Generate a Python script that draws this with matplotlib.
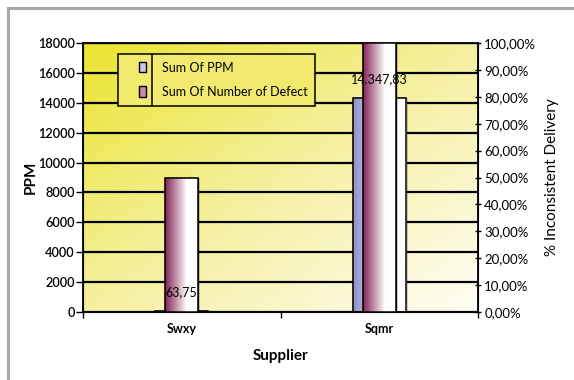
import numpy as np
import matplotlib.pyplot as plt
from matplotlib.colors import LinearSegmentedColormap
from matplotlib.patches import Rectangle
from matplotlib.lines import Line2D
from matplotlib.legend_handler import HandlerPatch

suppliers = ['Swxy', 'Sqmr']
ppm = [63.75, 14347.83]
defect_pct = [0.50, 1.00]
ppm_labels = ['63,75', '14.347,83']
left_ticks = [0, 2000, 4000, 6000, 8000, 10000, 12000, 14000, 16000, 18000]
right_ticks = [0, 0.1, 0.2, 0.3, 0.4, 0.5, 0.6, 0.7, 0.8, 0.9, 1.0]
right_labels = ['0,00%', '10,00%', '20,00%', '30,00%', '40,00%', '50,00%',
                '60,00%', '70,00%', '80,00%', '90,00%', '100,00%']

plt.rcParams['font.family'] = ['Lato', 'DejaVu Sans']

fig = plt.figure(figsize=(5.74, 3.8), dpi=100)
fig.patch.set_facecolor('white')
# grey outer frame
fig.add_artist(Rectangle((8/574, -0.2), 1.2, 1.2 - 12/380 + 0.01, transform=fig.transFigure,
                         fill=False, edgecolor='#a8a8a8', lw=2.2))

ax = fig.add_axes([83/574, 1 - 312/380, 395/574, 269/380])
x = np.arange(len(suppliers))
ax.set_xlim(-0.5, 1.5)
ax.set_ylim(0, 18000)

# diagonal yellow -> white background
gx, gy = np.meshgrid(np.linspace(0, 1, 200), np.linspace(0, 1, 200))
g = np.clip((gx + gy) / 2.0, 0, 1)
bg_cmap = LinearSegmentedColormap.from_list('bg', ['#ebe430', '#f5f0a0', '#fffef6'])
ax.imshow(g, extent=[0, 1, 0, 1], transform=ax.transAxes, cmap=bg_cmap,
          aspect='auto', zorder=0, origin='upper')

ax.set_yticks(left_ticks)
ax.yaxis.grid(True, color='black', lw=1.6, zorder=1)
ax.set_axisbelow(True)

ppm_cmap = LinearSegmentedColormap.from_list('ppm', ['#9090c8', '#c8c8e4', '#ffffff', '#ffffff'])
def_cmap = LinearSegmentedColormap.from_list('def', ['#862456', '#c090a8', '#ffffff', '#ffffff'])
hgrad = np.linspace(0, 1, 100).reshape(1, -1)

def gradient_bars(a, bars, cmap):
    for b in bars:
        x0, y0 = b.get_x(), b.get_y()
        im = a.imshow(hgrad, extent=[x0, x0 + b.get_width(), y0, y0 + b.get_height()],
                      cmap=cmap, aspect='auto', zorder=b.get_zorder() + 0.1)
        im.set_clip_path(b)
        a.add_patch(Rectangle((x0, y0), b.get_width(), b.get_height(), fill=False,
                              edgecolor='black', lw=1.1, zorder=b.get_zorder() + 0.2))

bars1 = ax.bar(x, ppm, width=0.27, color='#9090c8', edgecolor='black', lw=1.0, zorder=2)
gradient_bars(ax, bars1, ppm_cmap)
ax.set_xlim(-0.5, 1.5)
ax.set_ylim(0, 18000)

ax.set_xticks([-0.5, 0.5, 1.5])
ax.set_xticklabels([])
ax.set_xticks(x, minor=True)
ax.set_xticklabels(suppliers, minor=True, fontweight='bold', fontsize=9)
ax.tick_params(axis='x', which='minor', length=0, pad=8)
ax.tick_params(axis='x', which='major', length=4, width=1)
ax.tick_params(axis='y', length=5, width=1, labelsize=9.2, pad=1)
for lab in ax.get_yticklabels():
    lab.set_fontweight('semibold')
for s in ax.spines.values():
    s.set_linewidth(1.3)
ax.set_ylabel('PPM', fontweight='bold', fontsize=11, labelpad=0)
ax.set_xlabel('Supplier', fontweight='bold', fontsize=11, labelpad=10)

ax2 = ax.twinx()
ax2.set_ylim(0, 1.0)
bars2 = ax2.bar(x, defect_pct, width=0.165, color='#862456', edgecolor='black', lw=1.0, zorder=3)
gradient_bars(ax2, bars2, def_cmap)
ax2.set_xlim(-0.5, 1.5)
ax2.set_ylim(0, 1.0)
ax2.set_yticks(right_ticks)
ax2.set_yticklabels(right_labels)
ax2.tick_params(axis='y', length=5, width=1, labelsize=9.5, pad=2, direction='inout')
ax2.set_ylabel('% Inconsistent Delivery', fontsize=11, labelpad=6)

# data labels for PPM
for xi, v, lab in zip(x, ppm, ppm_labels):
    ax2.annotate(lab, xy=(xi, v / 18000), xytext=(0, 9), textcoords='offset points',
                 ha='center', va='bottom', fontsize=9, color='black', zorder=10)

def small_box(legend, orig_handle, xdescent, ydescent, width, height, fontsize):
    return Rectangle((-xdescent + 10, -ydescent - 0.6), 5, height + 1.2)

hm = HandlerPatch(patch_func=small_box)
leg = ax.legend([bars1[0], bars2[0]], ['Sum Of PPM', 'Sum Of Number of Defect'],
                loc='upper left', bbox_to_anchor=(35/395, 1 - 11/269), fancybox=False,
                framealpha=1, facecolor='#f1ea6e', edgecolor='black', fontsize=9,
                handlelength=2.6, handleheight=0.7, borderpad=0.6, labelspacing=1.0,
                handletextpad=0.3, borderaxespad=0,
                handler_map={bars1[0]: hm, bars2[0]: hm})
leg.get_frame().set_linewidth(1.1)
leg.set_zorder(20)
for h, c in zip(leg.legend_handles, ['#c8c8ec', '#c090a8']):
    h.set_facecolor(c)
    h.set_edgecolor('black')
    h.set_linewidth(1.0)

fig.canvas.draw()
bb = leg.get_window_extent()
xline = 152
leg_line = Line2D([xline, xline], [bb.y0, bb.y1], color='black', lw=1.1,
                  transform=None, zorder=25)
fig.add_artist(leg_line)

plt.savefig('out.png', dpi=100)
